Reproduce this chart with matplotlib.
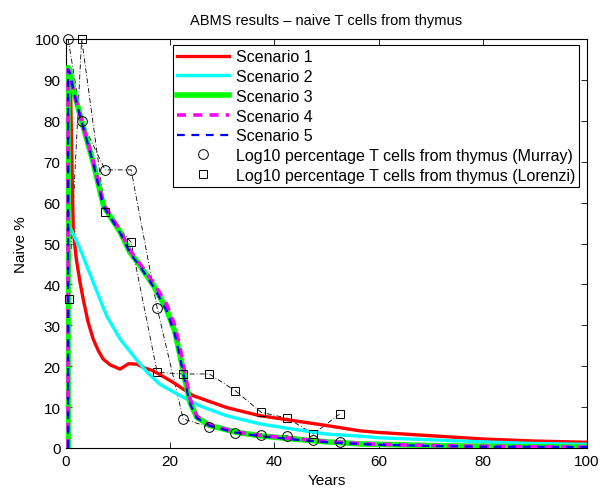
import numpy as np
import matplotlib
matplotlib.use('Agg')
import matplotlib.pyplot as plt

plt.rcParams['font.family'] = ['Liberation Sans', 'DejaVu Sans']
plt.rcParams['font.size'] = 11

# ---- simulated curves ----
yrs_s1 = [0.4, 0.4, 0.9, 1.1, 1.4, 2.0, 2.7, 3.3, 4.2, 5.2, 6.2, 7.1, 8.5, 10.4, 12.0, 13.6,
          15.0, 16.7, 18.5, 20.5, 24.4, 30.8, 37.2, 43.6, 50.0, 56.4, 60, 70, 80, 90, 100]
s1 = [0, 90, 86, 72, 53, 46, 40.5, 36.4, 31, 26.7, 23.8, 21.8, 20.3, 19.3, 20.6, 20.5,
      19.6, 18.9, 17.6, 16.1, 12.8, 9.9, 7.9, 6.7, 5.5, 4.2, 3.8, 3.0, 2.2, 1.7, 1.4]

yrs_s2 = [0.4, 0.4, 1.1, 2.7, 5.2, 7.8, 10.4, 12.9, 15.5, 18.0, 21.9, 25.7, 30.8, 37.2,
          43.6, 50.0, 56.4, 60, 70, 80, 90, 100]
s2 = [0, 55, 53.1, 48.7, 40.6, 32.3, 26.6, 22.6, 18.6, 15.6, 12.8, 10.3, 7.9, 5.9,
      4.6, 3.4, 2.9, 2.5, 2.0, 1.5, 1.1, 0.9]

yrs_s3 = [0.4, 0.4, 0.8, 1.4, 2.9, 5.2, 7.2, 10.4, 12.3, 14.2, 16.8, 19.3, 20.9, 21.9,
          22.8, 23.8, 25.1, 27.6, 32.8, 37.2, 43.6, 50.0, 56.4, 60, 70, 80, 90, 100]
s3 = [0, 93, 92, 87.7, 80.4, 69.9, 59.2, 52.8, 47.8, 44.6, 39.7, 34.0, 28.4, 22.6,
      16.9, 11.2, 7.5, 5.5, 3.8, 3.0, 2.2, 1.5, 1.0, 0.9, 0.6, 0.4, 0.3, 0.2]
s4 = [0, 92.5, 91.5, 87.5, 80.4, 70.2, 59.6, 53.2, 48.2, 45.0, 40.4, 35.2, 30.0, 24.5,
      18.5, 12.0, 7.8, 5.6, 3.9, 3.1, 2.3, 1.6, 1.1, 0.9, 0.6, 0.4, 0.3, 0.2]
s5 = [0, 92.5, 91.5, 87.5, 80.2, 69.8, 59.0, 52.6, 47.6, 44.4, 39.4, 33.6, 27.8, 22.0,
      16.4, 10.8, 7.3, 5.4, 3.7, 2.9, 2.1, 1.4, 1.0, 0.8, 0.5, 0.3, 0.3, 0.2]

# ---- thymus data ----
murray_yrs = [0.4, 3, 7.5, 12.5, 17.5, 22.5, 27.5, 32.5, 37.5, 42.5, 47.5, 52.5]
murray = [100, 80, 68, 68, 34.2, 7.1, 5.1, 3.7, 3.2, 3.0, 2.0, 1.5]
lorenzi_yrs = [0.5, 3, 7.5, 12.5, 17.5, 22.5, 27.5, 32.5, 37.5, 42.5, 47.5, 52.5]
lorenzi = [36.4, 100, 57.8, 50.3, 18.5, 18.1, 18.1, 14.0, 8.7, 7.3, 3.4, 8.3]

fig = plt.figure(figsize=(6.03, 4.89), dpi=100)
ax = fig.add_axes([66/603, 1-449/489, 521/603, 409/489])

dashdot = (0, (6, 2.5, 1, 2.5))
ax.plot(murray_yrs, murray, color='k', lw=0.6, ls=dashdot, zorder=1)
ax.plot(lorenzi_yrs, lorenzi, color='k', lw=0.6, ls=dashdot, zorder=1)

ax.plot(yrs_s1, s1, color='#ff0000', lw=2.4, label='Scenario 1', zorder=2)
ax.plot(yrs_s2, s2, color='#00ffff', lw=2.4, label='Scenario 2', zorder=2)
ax.plot(yrs_s3, s3, color='#00ff00', lw=4.0, label='Scenario 3', zorder=3)
ax.plot(yrs_s3, s4, color='#ff00ff', lw=2.6, ls=(0, (2.5, 2)), label='Scenario 4', zorder=4)
ax.plot(yrs_s3, s5, color='#0000ff', lw=1.6, ls=(0, (3.5, 3)), label='Scenario 5', zorder=5)

ax.plot(murray_yrs, murray, ls='none', marker='o', ms=7, mfc='none', mec='k', mew=0.7,
        label='Log10 percentage T cells from thymus (Murray)', zorder=6, clip_on=False)
ax.plot(lorenzi_yrs, lorenzi, ls='none', marker='s', ms=6, mfc='none', mec='k', mew=0.7,
        label='Log10 percentage T cells from thymus (Lorenzi)', zorder=6, clip_on=False)

ax.set_xlim(0, 100)
ax.set_ylim(0, 100)
ax.set_xticks(np.arange(0, 101, 20))
ax.set_yticks(np.arange(0, 101, 10))
ax.tick_params(direction='in', top=True, right=True, length=4, width=0.6,
               labelsize=11, pad=4)
for s in ax.spines.values():
    s.set_linewidth(0.8)

ax.set_title('ABMS results \u2013 naive T cells from thymus', fontsize=10.5, pad=11)
ax.set_xlabel('Years', fontsize=11, labelpad=4)
ax.set_ylabel('Naive %', fontsize=11, labelpad=5)

leg = ax.legend(loc='upper right', bbox_to_anchor=(0.985, 0.985), borderaxespad=0,
                fancybox=False, edgecolor='k', framealpha=1, fontsize=11.5,
                handlelength=3.3, handletextpad=0.4, labelspacing=0.3,
                borderpad=0.25)
leg.get_frame().set_linewidth(0.8)

fig.savefig('out.png', dpi=100)
